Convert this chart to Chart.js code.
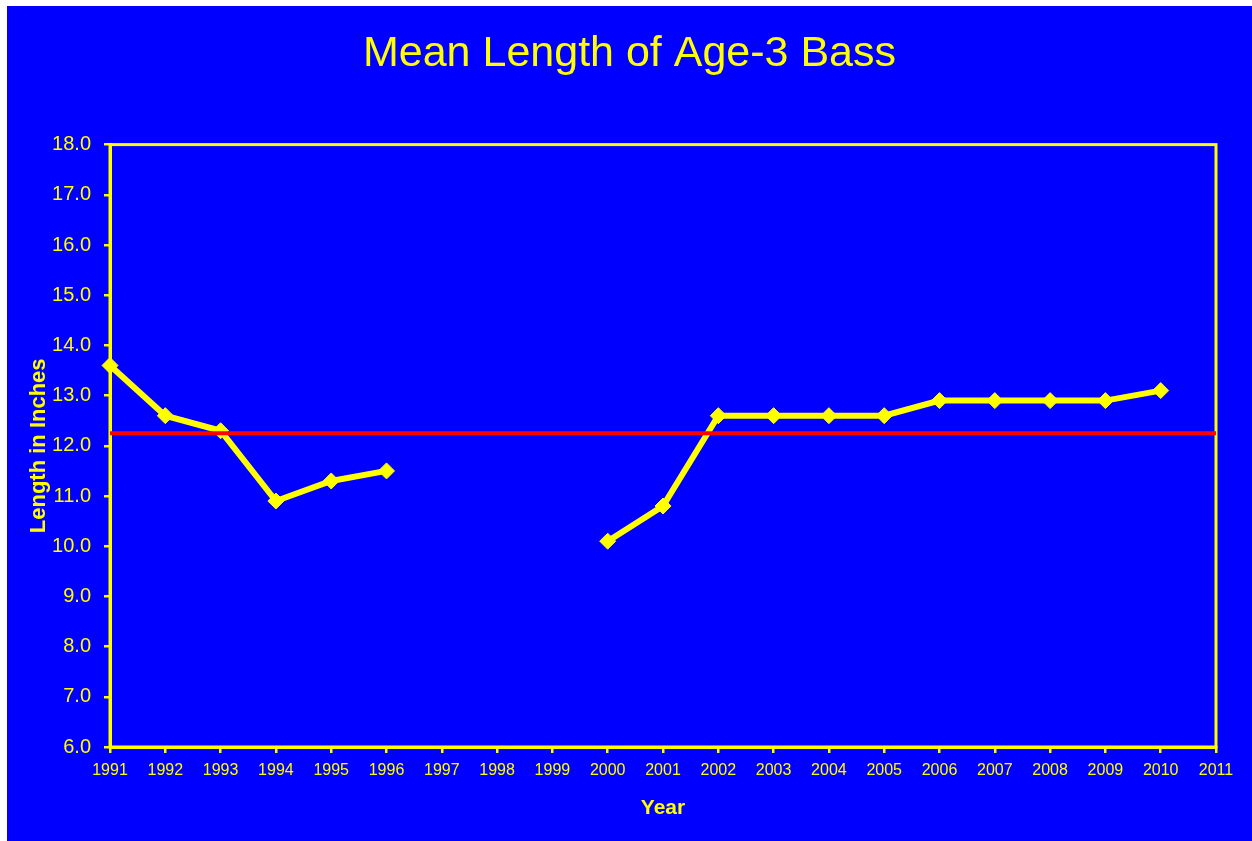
<!DOCTYPE html>
<html>
<head>
<meta charset="utf-8">
<title>Mean Length of Age-3 Bass</title>
<script src="https://cdn.jsdelivr.net/npm/chart.js@4.4.1/dist/chart.umd.min.js"></script>
<style>
  html, body { margin: 0; padding: 0; background: #ffffff; }
  #wrap { position: absolute; left: 7px; top: 6px; width: 1245px; height: 835px; background: #0000ff; }
</style>
</head>
<body>
<div id="wrap"><canvas id="canvas"></canvas></div>
<script>
// years on the x axis
var years = ["1991", "1992", "1993", "1994", "1995", "1996", "1997", "1998", "1999", "2000",
  "2001", "2002", "2003", "2004", "2005", "2006", "2007", "2008", "2009", "2010", "2011"];
// mean length (inches), no samples 1997-1999
var meanLength = [13.6, 12.6, 12.3, 10.9, 11.3, 11.5, null, null, null, 10.1,
  10.8, 12.6, 12.6, 12.6, 12.6, 12.9, 12.9, 12.9, 12.9, 13.1, null];
// long-term average line
var averageLength = 12.25;
var avgStart = "1991", avgEnd = "2011";

var yellow = "#ffff00";
var fontFam = "'Liberation Sans', Arial, Helvetica, sans-serif";

// yellow frame around the plot (top and right sides too)
var plotFrame = {
  id: "plotFrame",
  beforeDatasetsDraw: function(chart) {
    var a = chart.chartArea, ctx = chart.ctx;
    ctx.save();
    ctx.strokeStyle = yellow;
    ctx.lineWidth = 3;
    ctx.strokeRect(a.left, a.top, a.right - a.left, a.bottom - a.top);
    ctx.restore();
  }
};

var ctx = document.getElementById("canvas").getContext("2d");
window.myLine = new Chart(ctx, {
  type: "line",
  data: {
    labels: years,
    datasets: [{
      label: "Average",
      data: [{ x: avgStart, y: averageLength }, { x: avgEnd, y: averageLength }],
      borderColor: "#ff0000",
      borderWidth: 4,
      pointRadius: 0,
      fill: false
    }, {
      label: "Mean length",
      data: meanLength,
      borderColor: yellow,
      backgroundColor: yellow,
      borderWidth: 6,
      pointStyle: "rectRot",
      pointRadius: 8,
      pointBorderWidth: 1,
      pointBackgroundColor: yellow,
      pointBorderColor: yellow,
      spanGaps: false,
      fill: false
    }]
  },
  options: {
    responsive: true,
    maintainAspectRatio: false,
    animation: false,
    devicePixelRatio: 1,
    layout: { padding: 0 },
    plugins: {
      legend: { display: false },
      tooltip: { enabled: false },
      title: {
        display: true,
        text: "Mean Length of Age-3 Bass",
        color: yellow,
        font: { family: fontFam, size: 43, weight: "normal" },
        padding: { top: 22, bottom: 65 }
      }
    },
    scales: {
      x: {
        type: "category",
        offset: false,
        grid: { display: true, drawOnChartArea: false, drawTicks: true, tickLength: 6, color: yellow, lineWidth: 2.5, offset: false },
        border: { display: true, color: yellow, width: 3 },
        ticks: { color: yellow, font: { family: fontFam, size: 16 }, padding: 8, maxRotation: 0, autoSkip: false },
        title: { display: true, text: "Year", color: yellow, font: { family: fontFam, size: 21, weight: "bold" }, padding: { top: 0, bottom: 20 } },
        afterFit: function(scale) { scale.height = 94; }
      },
      y: {
        min: 6,
        max: 18,
        grid: { display: true, drawOnChartArea: false, drawTicks: true, tickLength: 6, color: yellow, lineWidth: 2.5 },
        border: { display: true, color: yellow, width: 3 },
        ticks: {
          stepSize: 1,
          color: yellow,
          font: { family: fontFam, size: 20 },
          padding: 13,
          callback: function(v) { return Number(v).toFixed(1); }
        },
        title: { display: true, text: "Length in Inches", color: yellow, font: { family: fontFam, size: 22, weight: "bold" }, padding: { top: 19, bottom: 0 } },
        afterFit: function(scale) { scale.width = 103; }
      },
      // empty right-hand axis, only to keep space at the right
      yRight: {
        position: "right",
        display: true,
        grid: { display: false },
        border: { display: false },
        ticks: { display: false },
        afterFit: function(scale) { scale.width = 36; }
      }
    }
  },
  plugins: [plotFrame]
});
</script>
</body>
</html>
